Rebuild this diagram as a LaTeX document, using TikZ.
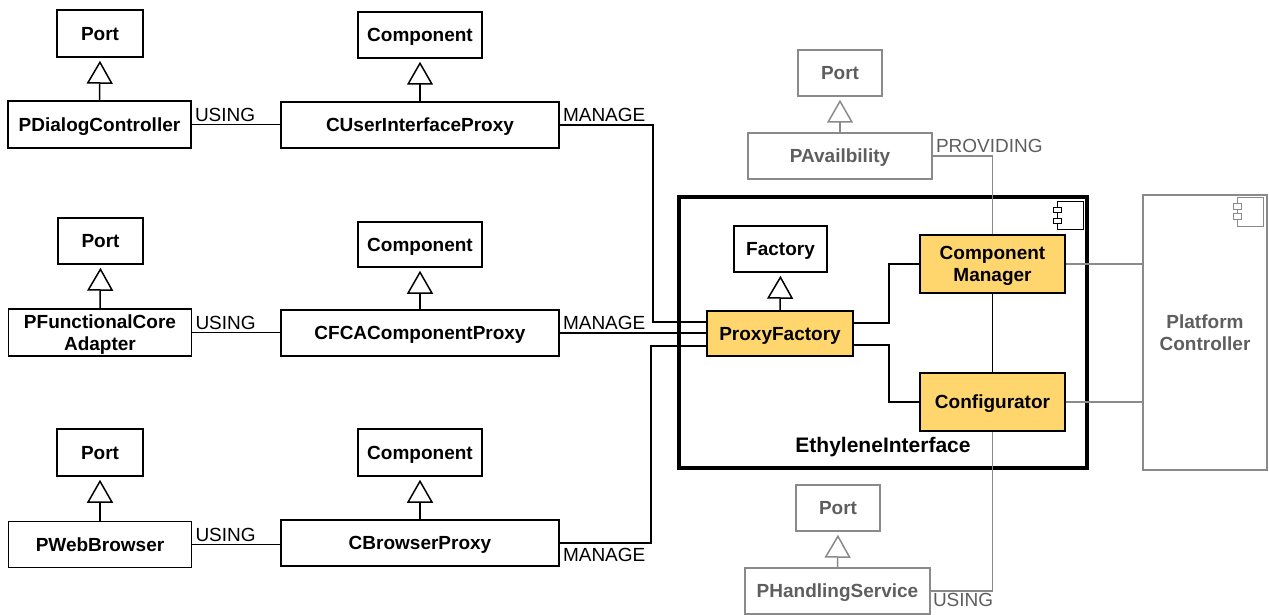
\documentclass[tikz,border=0pt]{standalone}
\usepackage{fontspec}
\setmainfont{Liberation Sans}
\usetikzlibrary{arrows.meta}
\definecolor{yel}{HTML}{FFD66E}
\definecolor{gline}{HTML}{8A8A8A}
\definecolor{gtext}{HTML}{5E5E5E}
\tikzset{
  cls/.style={draw, line width=1.5pt, inner sep=0pt, align=center, text depth=0pt, font=\fontsize{19}{22}\selectfont\bfseries},
  gcls/.style={cls, draw=gline, text=gtext},
  ycls/.style={cls, fill=yel},
  lbl/.style={font=\fontsize{19}{22}\selectfont, inner sep=2.5pt},
  glbl/.style={lbl, text=gtext},
  conn/.style={line width=1.5pt},
  gconn/.style={conn, draw=gline},
  gen/.style={conn, -{Triangle[open, length=23pt, width=26pt]}, shorten >=3pt},
  ggen/.style={gen, draw=gline},
}
\begin{document}
\begin{tikzpicture}[x=1pt,y=-1pt]
\useasboundingbox (0,0) rectangle (1269,615);

% left column
\node[cls, minimum width=86, minimum height=47] (port1) at (100,33.5) {Port};
\node[cls, minimum width=183, minimum height=47] (pdc) at (99.5,124.5) {PDialogController};
\node[cls, minimum width=124, minimum height=46] (comp1) at (420,35) {Component};
\node[cls, minimum width=278, minimum height=46] (cuip) at (420,125) {CUserInterfaceProxy};

\node[cls, minimum width=85, minimum height=46] (port2) at (100.5,241) {Port};
\node[cls, minimum width=183, minimum height=47] (pfca) at (100,332.5) {PFunctionalCore\\Adapter};
\node[cls, minimum width=124, minimum height=45] (comp2) at (420,244.5) {Component};
\node[cls, minimum width=278, minimum height=46] (cfca) at (420,333) {CFCAComponentProxy};

\node[cls, minimum width=86, minimum height=47] (port3) at (100,452.5) {Port};
\node[cls, minimum width=183, minimum height=46] (pweb) at (100,544.5) {PWebBrowser};
\node[cls, minimum width=124, minimum height=47] (comp3) at (420,452.5) {Component};
\node[cls, minimum width=278, minimum height=46] (cbp) at (420,543) {CBrowserProxy};

% EthyleneInterface
\node[draw, line width=4pt, minimum width=408, minimum height=271, inner sep=0pt] (eth) at (883,332.5) {};
\node[font=\fontsize{21}{24}\selectfont\bfseries, inner sep=0pt, text depth=0pt] (ethl) at (883,445) {EthyleneInterface};
\draw[line width=1pt] (1057,201) rectangle (1083,229);
\draw[line width=1pt, fill=white] (1053,207) rectangle (1061,212);
\draw[line width=1pt, fill=white] (1053,218) rectangle (1061,223);

\node[cls, minimum width=93, minimum height=46] (factory) at (780.5,249) {Factory};
\node[ycls, minimum width=146, minimum height=45] (pf) at (780,333.5) {ProxyFactory};
\node[ycls, minimum width=145, minimum height=58] (cm) at (992.5,264) {Component\\Manager};
\node[ycls, minimum width=145, minimum height=58] (conf) at (992.5,402) {Configurator};

% Platform Controller
\node[gcls, minimum width=124, minimum height=275] (plat) at (1205,332.5) {Platform\\Controller};
\draw[line width=1pt, draw=gline] (1237,197) rectangle (1263,226);
\draw[line width=1pt, draw=gline, fill=white] (1233,203) rectangle (1241,209);
\draw[line width=1pt, draw=gline, fill=white] (1233,213) rectangle (1241,219);

% gray ports
\node[gcls, minimum width=84, minimum height=46] (gport1) at (840,73) {Port};
\node[gcls, minimum width=184, minimum height=46] (pav) at (840,156) {PAvailbility};
\node[gcls, minimum width=84, minimum height=46] (gport2) at (838,508) {Port};
\node[gcls, minimum width=185, minimum height=46] (phs) at (837.5,591) {PHandlingService};

% generalizations
\draw[gen] (pdc.north) -- (port1.south);
\draw[gen] (cuip.north) -- (comp1.south);
\draw[gen] (pfca.north) -- (port2.south);
\draw[gen] (cfca.north) -- (comp2.south);
\draw[gen] (pweb.north) -- (port3.south);
\draw[gen] (cbp.north) -- (comp3.south);
\draw[gen] (pf.north) -- (factory.south);
\draw[ggen] (pav.north) -- (gport1.south);
\draw[ggen] (phs.north) -- (gport2.south);

% USING
\draw[conn] (pdc.east) -- node[lbl, pos=0, anchor=south west]{USING} (pdc.east -| cuip.west);
\draw[conn] (pfca.east) -- node[lbl, pos=0, anchor=south west]{USING} (pfca.east -| cfca.west);
\draw[conn] (pweb.east) -- node[lbl, pos=0, anchor=south west]{USING} (pweb.east -| cbp.west);

% MANAGE
\draw[conn] (cuip.east) -- node[lbl, pos=0, anchor=south west]{MANAGE} ++(93,0) |- ([yshift=11.5pt]pf.west);
\draw[conn] (cfca.east) -- node[lbl, pos=0, anchor=south west]{MANAGE} (cfca.east -| pf.west);
\draw[conn] (cbp.east) -- node[lbl, pos=0, anchor=north west, yshift=-2pt]{MANAGE} ++(91,0) |- ([yshift=-12.5pt]pf.west);

% inside
\draw[conn] ([yshift=10.5pt]pf.east) -- ++(35,0) |- (cm.west);
\draw[conn] ([yshift=-11.5pt]pf.east) -- ++(35,0) |- (conf.west);
\draw[conn] (cm.south) -- (conf.north);

% gray connections
\draw[gconn] (pav.east) -| node[glbl, pos=0, anchor=south west]{PROVIDING} (cm.north);
\draw[gconn] (conf.south) |- node[glbl, pos=1, anchor=north west, inner sep=1.5pt]{USING} (phs.east);
\draw[gconn] (cm.east) -- (cm.east -| plat.west);
\draw[gconn] (conf.east) -- (conf.east -| plat.west);
\end{tikzpicture}
\end{document}
